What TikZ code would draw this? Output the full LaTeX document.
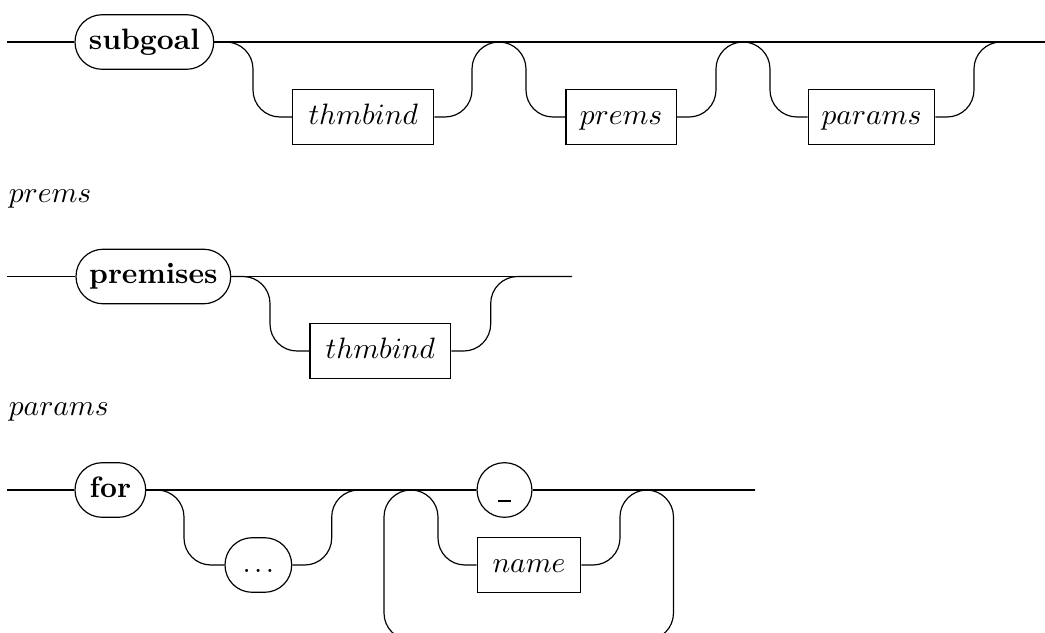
\documentclass[tikz,border=0pt]{standalone}
\begin{document}
\begin{tikzpicture}[x=0.339pt,y=-0.339pt,
  term/.style={draw, line width=0.4pt, rounded corners=9.2pt, minimum height=18.5pt, inner sep=0pt,
    text height=6.94pt, text depth=1.94pt, font=\bfseries},
  nonterm/.style={draw, line width=0.4pt, minimum height=18.65pt, inner sep=0pt,
    text height=6.94pt, text depth=1.94pt},
  lbl/.style={anchor=base west, inner sep=0pt},
  railpath/.style={draw, line width=0.4pt, rounded corners=9.15pt}]
\clip (0,0) rectangle (1045,633);
% ---------- row 1 ----------
\coordinate (s1) at (7,42);
\coordinate (e1) at (1045,42);
\node[term, minimum width=47.02pt] (sg) at (144.35,42) {subgoal};
\node[nonterm, minimum width=47.8pt] (tb) at (363.25,117) {$thmbind$};
\node[nonterm, minimum width=37.36pt] (pr) at (621.1,117) {$prems$};
\node[nonterm, minimum width=42.88pt] (pa) at (871.5,117) {$params$};
\path[railpath] (s1) -- (sg.west);
\path[railpath] (sg.east) -- (e1);
\path[railpath] (sg.east) -- (253,42) -- (253,117) -- (tb.west);
\path[railpath] (tb.east) -- (472,117) -- (472,42) -- (526,42) -- (526,117) -- (pr.west);
\path[railpath] (pr.east) -- (716,117) -- (716,42) -- (770,42) -- (770,117) -- (pa.west);
\path[railpath] (pa.east) -- (974,117) -- (974,42) -- (e1);
% ---------- row 2 ----------
\node[lbl] (lprems) at (8.3,202) {$prems$};
\coordinate (s2) at (7,276.5);
\coordinate (e2) at (572,276.5);
\node[term, minimum width=52.44pt] (pm) at (153.35,276.5) {premises};
\node[nonterm, minimum width=47.7pt] (tb2) at (380.35,351) {$thmbind$};
\path[railpath] (s2) -- (pm.west);
\path[railpath] (pm.east) -- (e2);
\path[railpath] (pm.east) -- (270,276.5) -- (270,351) -- (tb2.west);
\path[railpath] (tb2.east) -- (490.7,351) -- (490.7,276.5) -- (e2);
% ---------- row 3 ----------
\node[lbl] (lparams) at (8.3,415) {$params$};
\coordinate (s3) at (7,490);
\coordinate (e3) at (755,490);
\node[term, minimum width=23.97pt] (for) at (110.35,490) {for};
\node[term, minimum width=22.61pt, font=\normalfont] (dots) at (258.35,565) {.\kern1.17pt.\kern1.17pt.};
\node[term, minimum width=18.6pt] (us) at (504.5,490) {\rule[-1.7pt]{4.2pt}{0.85pt}};
\node[nonterm, minimum width=35.05pt] (nm) at (529,565) {$name$};
\path[railpath] (s3) -- (for.west);
\path[railpath] (for.east) -- (us.west);
\path[railpath] (us.east) -- (e3);
\path[railpath] (for.east) -- (184,490) -- (184,565) -- (dots.west);
\path[railpath] (dots.east) -- (331.7,565) -- (331.7,490) -- (us.west);
\path[railpath] (for.east) -- (438,490) -- (438,565) -- (nm.west);
\path[railpath] (nm.east) -- (620,565) -- (620,490) -- (e3);
\path[railpath] (us.east) -- (673.5,490) -- (673.5,640) -- (384,640) -- (384,490) -- (us.west);
\end{tikzpicture}
\end{document}
